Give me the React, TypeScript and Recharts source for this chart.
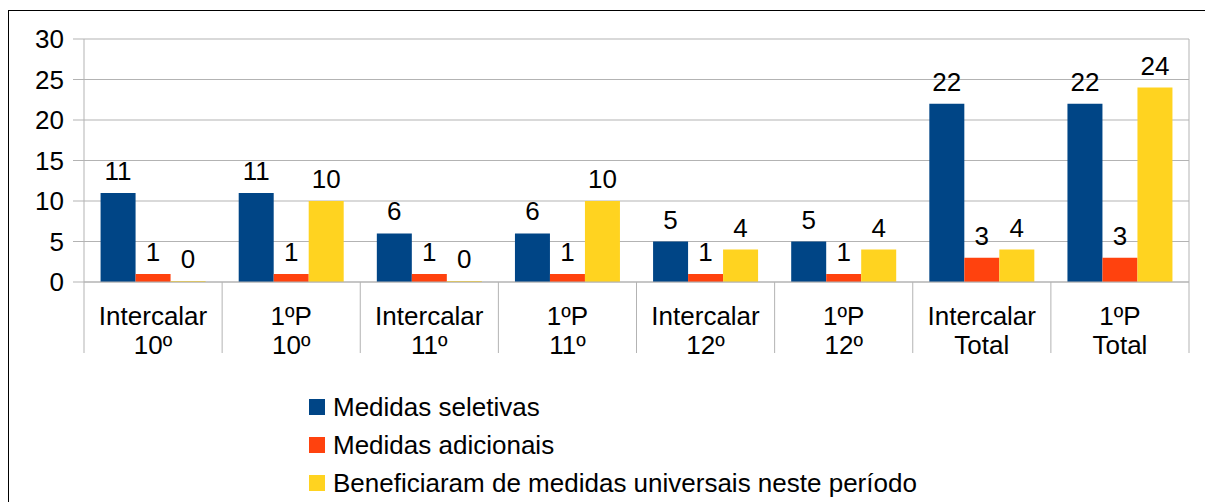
import { BarChart, Bar, XAxis, YAxis, CartesianGrid, LabelList, Legend } from 'recharts';

const categories = [
  'Intercalar\n10º',
  '1ºP\n10º',
  'Intercalar\n11º',
  '1ºP\n11º',
  'Intercalar\n12º',
  '1ºP\n12º',
  'Intercalar\nTotal',
  '1ºP\nTotal',
];
const seletivas = [11, 11, 6, 6, 5, 5, 22, 22];
const adicionais = [1, 1, 1, 1, 1, 1, 3, 3];
const universais = [0, 10, 0, 10, 4, 4, 4, 24];
const yTicks = [0, 5, 10, 15, 20, 25, 30];

const series = [
  { key: 'sel', name: 'Medidas seletivas', color: '#004586' },
  { key: 'adi', name: 'Medidas adicionais', color: '#ff420e' },
  { key: 'uni', name: 'Beneficiaram de medidas universais neste período', color: '#ffd320' },
];

const data = categories.map((cat, i) => ({
  cat,
  sel: seletivas[i],
  adi: adicionais[i],
  uni: universais[i],
}));

const W = 1205;
const H = 502;
const GRID = '#b3b3b3';
const FONT = '"Liberation Sans", Arial, sans-serif';
const MARGIN = { top: 39, right: 16, left: 0, bottom: 149 };
const Y_WIDTH = 84;
const X_HEIGHT = 71;
// fallback half band, in case the tick payload has no offset
const HALF_BAND = (W - MARGIN.left - MARGIN.right - Y_WIDTH) / categories.length / 2;

function CategoryTick(props: any) {
  const { x, y, payload, index } = props;
  const half = payload?.offset || HALF_BAND;
  const [top, bottom] = String(payload.value).split('\n');
  return (
    <g>
      <line x1={x - half} x2={x - half} y1={y} y2={y + X_HEIGHT} stroke={GRID} />
      {index === categories.length - 1 && (
        <line x1={x + half} x2={x + half} y1={y} y2={y + X_HEIGHT} stroke={GRID} />
      )}
      <text x={x} y={y + 43} textAnchor="middle" fill="#000" fontSize={26} fontFamily={FONT}>
        {top}
      </text>
      <text x={x} y={y + 72} textAnchor="middle" fill="#000" fontSize={26} fontFamily={FONT}>
        {bottom}
      </text>
    </g>
  );
}

function LegendList() {
  return (
    <ul style={{ listStyle: 'none', margin: 0, padding: 0, fontFamily: FONT, fontSize: 26 }}>
      {series.map((s) => (
        <li key={s.key} style={{ display: 'flex', alignItems: 'center', height: 38, color: '#000' }}>
          <span style={{ width: 16, height: 16, background: s.color, marginRight: 8, flexShrink: 0 }} />
          <span style={{ whiteSpace: 'nowrap' }}>{s.name}</span>
        </li>
      ))}
    </ul>
  );
}

export default function App() {
  return (
    <div style={{ position: 'absolute', left: 0, top: 0, width: W, height: H, overflow: 'hidden', background: '#fff' }}>
      <div
        style={{
          position: 'absolute',
          left: 8,
          top: 10,
          width: W + 20,
          height: H + 20,
          border: '1px solid #000',
          boxSizing: 'border-box',
        }}
      />
      <div style={{ position: 'absolute', left: 0, top: 0 }}>
        <BarChart
          width={W}
          height={H}
          data={data}
          margin={MARGIN}
          barCategoryGap="12%"
          barGap={0}
          style={{ fontFamily: FONT }}
        >
          <CartesianGrid
            stroke={GRID}
            vertical
            verticalCoordinatesGenerator={({ offset }: any) => [offset.left + offset.width]}
          />
          <XAxis
            dataKey="cat"
            interval={0}
            height={X_HEIGHT}
            tickLine={false}
            tickSize={0}
            tickMargin={0}
            axisLine={{ stroke: GRID }}
            tick={<CategoryTick />}
          />
          <YAxis
            width={Y_WIDTH}
            domain={[0, 30]}
            ticks={yTicks}
            interval={0}
            tickSize={11}
            tickMargin={9}
            axisLine={{ stroke: GRID }}
            tickLine={{ stroke: GRID }}
            tick={{ fill: '#000', fontSize: 26, fontFamily: FONT }}
          />
          <Legend
            layout="vertical"
            align="center"
            verticalAlign="middle"
            wrapperStyle={{ left: 309, top: 388, width: 700 }}
            content={() => <LegendList />}
          />
          {series.map((s) => (
            <Bar
              key={s.key}
              dataKey={s.key}
              name={s.name}
              fill={s.color}
              minPointSize={1}
              isAnimationActive={false}
            >
              <LabelList dataKey={s.key} position="top" offset={13} fill="#000" fontSize={26} fontFamily={FONT} />
            </Bar>
          ))}
        </BarChart>
      </div>
    </div>
  );
}
